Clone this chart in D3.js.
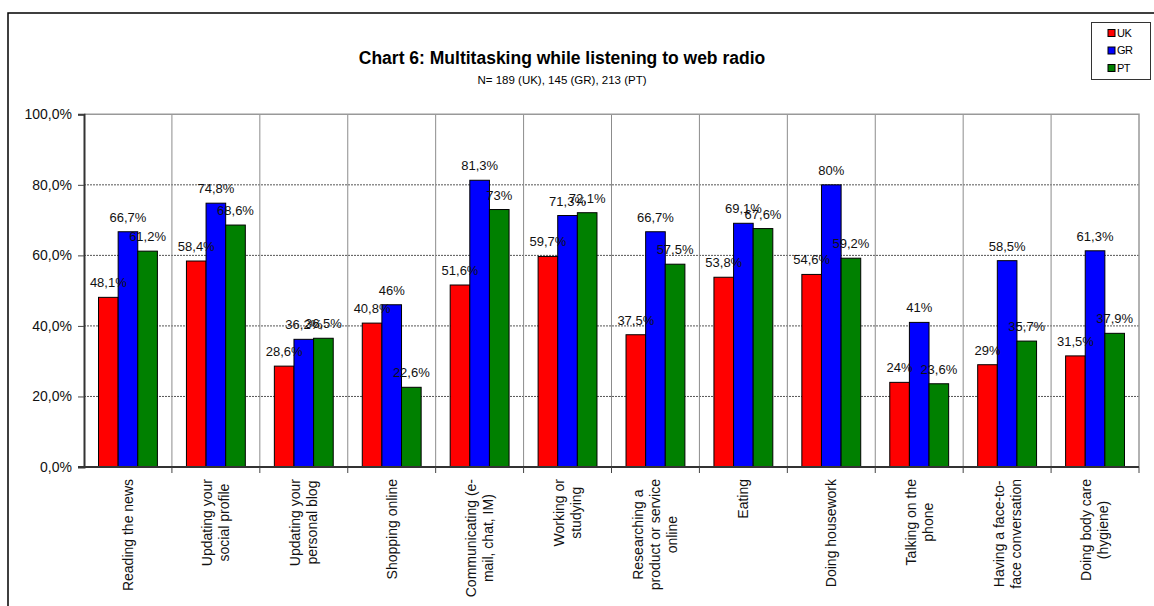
<!DOCTYPE html>
<html>
<head>
<meta charset="utf-8">
<script src="https://cdn.jsdelivr.net/npm/d3@7/dist/d3.min.js"></script>
<style>
  body { margin: 0; background: #fff; }
  svg { font-family: "Liberation Sans", Arial, sans-serif; }
</style>
</head>
<body>
<div id="chart-area"></div>
<script>
// data
const categories = [
  ["Reading the news"],
  ["Updating your", "social profile"],
  ["Updating your", "personal blog"],
  ["Shopping online"],
  ["Communicating (e-", "mail, chat, IM)"],
  ["Working or", "studying"],
  ["Researching a", "product or service", "online"],
  ["Eating"],
  ["Doing housework"],
  ["Talking on the", "phone"],
  ["Having a face-to-", "face conversation"],
  ["Doing body care", "(hygiene)"]
];
const seriesNames = ["UK", "GR", "PT"];
const seriesColors = ["#ff0000", "#0000ff", "#008000"];
const ukValues = [48.1, 58.4, 28.6, 40.8, 51.6, 59.7, 37.5, 53.8, 54.6, 24, 29, 31.5];
const grValues = [66.7, 74.8, 36.2, 46, 81.3, 71.3, 66.7, 69.1, 80, 41, 58.5, 61.3];
const ptValues = [61.2, 68.6, 36.5, 22.6, 73, 72.1, 57.5, 67.6, 59.2, 23.6, 35.7, 37.9];
const yTicks = [0, 20, 40, 60, 80, 100];

const WIDTH = 1154, HEIGHT = 606;
const PLOT = { LEFT: 84, RIGHT: 1139, TOP: 114.3, BOTTOM: 467 };

const svg = d3.select("#chart-area").append("svg")
  .attr("width", WIDTH)
  .attr("height", HEIGHT)

// outer frame
svg.append("rect")
  .attr("x", 8).attr("y", 13)
  .attr("width", WIDTH).attr("height", HEIGHT)
  .attr("fill", "none")
  .attr("stroke", "#000")
  .attr("stroke-width", 1.5)

// titles
svg.append("text")
  .attr("x", 562).attr("y", 64)
  .attr("text-anchor", "middle")
  .attr("font-weight", "bold")
  .attr("font-size", "17.5px")
  .text("Chart 6: Multitasking while listening to web radio")

svg.append("text")
  .attr("x", 562).attr("y", 84)
  .attr("text-anchor", "middle")
  .attr("font-size", "11.5px")
  .text("N= 189 (UK), 145 (GR), 213 (PT)")

const keys = categories.map(c => c.join(" "));
const data = keys.map((k, i) => ({ key: k, values: [ukValues[i], grValues[i], ptValues[i]] }));

const x = d3.scaleBand()
  .domain(keys)
  .range([PLOT.LEFT, PLOT.RIGHT])
  .paddingInner(0)

const x1 = d3.scaleBand()
  .domain(seriesNames)
  .range([0, x.bandwidth()])
  .paddingOuter(0.74)
  .paddingInner(0)

const y = d3.scaleLinear()
  .domain([0, 100])
  .range([PLOT.BOTTOM, PLOT.TOP])

// horizontal gridlines
svg.append("g")
  .selectAll("line")
  .data(yTicks.filter(d => d > 0 && d < 100))
  .enter().append("line")
  .attr("x1", PLOT.LEFT).attr("x2", PLOT.RIGHT)
  .attr("y1", d => y(d)).attr("y2", d => y(d))
  .attr("stroke", "#555")
  .attr("stroke-dasharray", "2,1")
  .attr("stroke-width", 1)

// vertical gridlines at category boundaries
svg.append("g")
  .selectAll("line")
  .data(keys.slice(1))
  .enter().append("line")
  .attr("x1", d => x(d)).attr("x2", d => x(d))
  .attr("y1", PLOT.TOP).attr("y2", PLOT.BOTTOM)
  .attr("stroke", "#8c8c8c")

// plot top and right border
svg.append("path")
  .attr("d", `M${PLOT.LEFT},${y(100)}H${PLOT.RIGHT}V${PLOT.BOTTOM}`)
  .attr("fill", "none")
  .attr("stroke", "#999")
  .attr("stroke-width", 1.5)

// bars
const groups = svg.append("g")
  .selectAll("g")
  .data(data)
  .enter().append("g")
  .attr("transform", d => `translate(${x(d.key)},0)`)

groups.selectAll("rect")
  .data(d => d.values.map((v, j) => ({ s: seriesNames[j], v: v, j: j })))
  .enter().append("rect")
  .attr("x", d => x1(d.s))
  .attr("y", d => y(d.v))
  .attr("width", x1.bandwidth())
  .attr("height", d => PLOT.BOTTOM - y(d.v))
  .attr("fill", d => seriesColors[d.j])
  .attr("stroke", "#000")
  .attr("stroke-width", 1)

const fmt = v => (Number.isInteger(v) ? String(v) : v.toFixed(1).replace(".", ",")) + "%";

groups.selectAll("text")
  .data(d => d.values.map((v, j) => ({ s: seriesNames[j], v: v })))
  .enter().append("text")
  .attr("x", d => x1(d.s) + x1.bandwidth() / 2)
  .attr("y", d => y(d.v) - 10)
  .attr("text-anchor", "middle")
  .attr("font-size", "13px")
  .attr("fill", "#111")
  .text(d => fmt(d.v))

// y axis
const yAxisCall = d3.axisLeft(y)
  .tickValues(yTicks)
  .tickSize(6)
  .tickPadding(6)
  .tickFormat(d => d.toFixed(1).replace(".", ",") + "%")

const yAxis = svg.append("g")
  .attr("transform", `translate(${PLOT.LEFT},0)`)
  .call(yAxisCall)
yAxis.select(".domain").attr("stroke", "#333").attr("stroke-width", 2)
yAxis.selectAll(".tick line").attr("stroke", "#444")
yAxis.selectAll(".tick text")
  .attr("font-size", "14px")
  .attr("font-family", "Liberation Sans, Arial, sans-serif")
  .attr("fill", "#111")

// x axis line + ticks at boundaries
svg.append("line")
  .attr("x1", PLOT.LEFT - 6).attr("x2", PLOT.RIGHT)
  .attr("y1", PLOT.BOTTOM).attr("y2", PLOT.BOTTOM)
  .attr("stroke", "#333")
  .attr("stroke-width", 2)

svg.append("g")
  .selectAll("line")
  .data(keys.slice(1).map(k => x(k)).concat([PLOT.RIGHT]))
  .enter().append("line")
  .attr("x1", d => d).attr("x2", d => d)
  .attr("y1", PLOT.BOTTOM).attr("y2", PLOT.BOTTOM + 6)
  .attr("stroke", "#444")

// x labels, rotated, lines centred on each other
const LH = 17;
const labelTop = 479;
categories.forEach((lines, i) => {
  const cx = x(keys[i]) + x.bandwidth() / 2;
  const lg = svg.append("g");
  const texts = lines.map(l => lg.append("text")
    .attr("font-size", "14px")
    .attr("fill", "#111")
    .attr("text-anchor", "middle")
    .attr("dy", "0.35em")
    .text(l));
  const maxW = d3.max(texts, t => t.node().getComputedTextLength());
  texts.forEach((t, j) => {
    const off = (j - (lines.length - 1) / 2) * LH;
    t.attr("transform", `translate(${cx + off},${labelTop + maxW / 2}) rotate(-90)`);
  });
});

// legend
const legend = svg.append("g")
legend.append("rect")
  .attr("x", 1091.5).attr("y", 22.5)
  .attr("width", 59).attr("height", 57)
  .attr("fill", "#fff")
  .attr("stroke", "#333")

seriesNames.forEach((s, i) => {
  const cy = 33 + i * 17.5;
  legend.append("rect")
    .attr("x", 1108).attr("y", cy - 3.5)
    .attr("width", 7).attr("height", 7)
    .attr("fill", seriesColors[i])
    .attr("stroke", "#000")
  legend.append("text")
    .attr("x", 1117).attr("y", cy)
    .attr("dy", "0.35em")
    .attr("font-size", "11px")
    .attr("letter-spacing", "-0.5px")
    .text(s)
});
</script>
</body>
</html>
